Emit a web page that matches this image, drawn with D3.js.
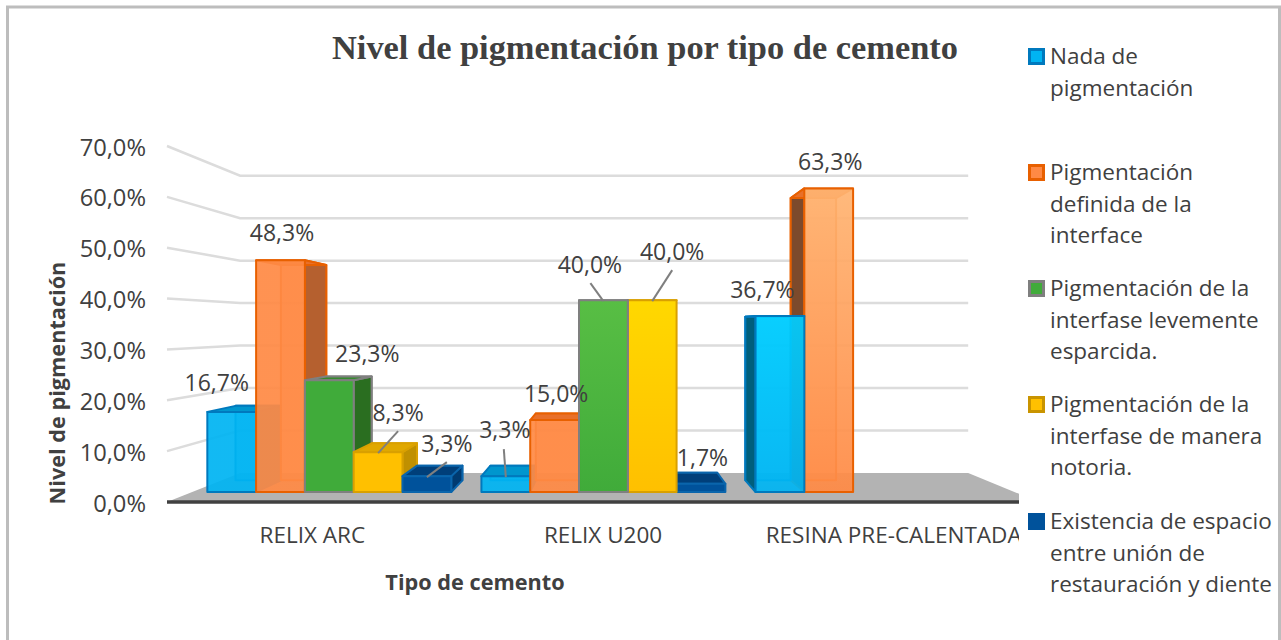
<!DOCTYPE html>
<html lang="es">
<head>
<meta charset="utf-8">
<title>Nivel de pigmentación por tipo de cemento</title>
<script src="https://d3js.org/d3.v7.min.js"></script>
<style>
  html, body { margin: 0; padding: 0; background: #fff; }
  svg { display: block; }
  text { font-family: "Open Sans", sans-serif; fill: #404040; }
  .axis path, .axis line { display: none; }
  .axis text { font-family: "Open Sans", sans-serif; fill: #404040; }
</style>
</head>
<body>
<script>
const categories = ["RELIX ARC", "RELIX U200", "RESINA PRE-CALENTADA"];
const seriesNames = [
  "Nada de pigmentación",
  "Pigmentación definida de la interface",
  "Pigmentación de la interfase levemente esparcida.",
  "Pigmentación de la interfase de manera notoria.",
  "Existencia de espacio entre unión de restauración y diente"
];
const nada = [16.7, 3.3, 36.7];
const definida = [48.3, 15.0, 63.3];
const levemente = [23.3, 40.0, 0];
const notoria = [8.3, 40.0, 0];
const espacio = [3.3, 1.7, 0];
const yTicks = [0, 10, 20, 30, 40, 50, 60, 70];

const seriesValues = [nada, definida, levemente, notoria, espacio];

const width = 1281, height = 640;

// perspective: everything shrinks towards this point going back into the chart
const vx = 610, vy = 326;
const wallBack = 0.835, barFront = 0.943, barBack = 0.877;
const project = (x, y, s) => [vx + s * (x - vx), vy + s * (y - vy)];

const fronts = ["#00B4F2", "#FF8A45", "#40AB3A", "#FFC000", "#00529B"];
const sides = ["#0082B8", "#B5602F", "#2A6E20", "#C09000", "#003A70"];
const leftSides = ["#005F7C", "#7C4A2C", "#2A6E20", "#C09000", "#003A70"];
const tops = ["#0096CE", "#E8702A", "#358A2E", "#E0A800", "#003F7A"];
const edges = ["#0079BD", "#E86000", "#7F7F7F", "#D9A000", "#0A65AC"];
const swatchEdges = ["#0079BD", "#E86000", "#7F7F7F", "#C99400", "#00529B"];
const frontOpacity = [0.93, 0.93, 1, 1, 1];
// lighter colour at the top of the tall front faces, per category
const topTints = [
  fronts,
  ["#00B4F2", "#FF8A45", "#58BE44", "#FFD800", "#00529B"],
  ["#00CEFF", "#FFB472", "#40AB3A", "#FFC000", "#00529B"]
];

// label offset from the bar's top centre, then the end of the leader line if it has one
const labelSpots = [
  [[-15, -30], [1.5, -28], [38, -27], [20, -40, 20, -21], [20, -33, 20, -14]],
  [[-1, -47, -2, -27], [1.5, -27], [-13.5, -36, -13, -17], [20, -49, 20, -30], [1.5, -27]],
  [[-17.5, -27], [1.5, -27]]
];

const legendLines = [
  ["Nada de", "pigmentación"],
  ["Pigmentación", "definida de la", "interface"],
  ["Pigmentación de la", "interfase levemente", "esparcida."],
  ["Pigmentación de la", "interfase de manera", "notoria."],
  ["Existencia de espacio", "entre unión de", "restauración y diente"]
];

const comma = d3.formatLocale({ decimal: ",", thousands: ".", grouping: [3], currency: ["", ""] }).format(".1f");
const pct = d => comma(d) + "%";

const y = d3.scaleLinear().domain([0, 70]).range([502, 146]);
const x0 = d3.scaleBand().domain(categories).range([167, 1039]).paddingInner(0.11).paddingOuter(0.055);
const x1 = d3.scaleBand().domain(seriesNames).range([0, x0.bandwidth()]);

const svg = d3.select("body").append("svg").attr("width", width).attr("height", height);

// outer frame of the chart
svg.append("rect").attr("width", width).attr("height", height).attr("fill", "#fff");
svg.append("path")
  .attr("d", "M7.5,640V7H1279.5V640")
  .attr("fill", "none").attr("stroke", "#BDBDBD").attr("stroke-width", 3);

svg.append("text")
  .attr("x", 645).attr("y", 59)
  .attr("text-anchor", "middle")
  .style("font-family", '"Liberation Serif", serif')
  .style("font-weight", "bold")
  .style("font-size", "34.4px")
  .text("Nivel de pigmentación por tipo de cemento");

const defs = svg.append("defs");
defs.append("clipPath").attr("id", "plot-clip")
  .append("rect").attr("x", 0).attr("y", 0).attr("width", 1019).attr("height", height);

const plot = svg.append("g").attr("clip-path", "url(#plot-clip)");

// walls: each gridline runs along the left wall then across the back
plot.append("g").selectAll("path")
  .data(yTicks.filter(d => d > 0))
  .join("path")
  .attr("d", d => d3.line()([
    project(167, y(d), 1),
    project(167, y(d), wallBack),
    project(1039, y(d), wallBack)
  ]))
  .attr("fill", "none").attr("stroke", "#DCDCDC").attr("stroke-width", 2.5);

// floor
plot.append("path")
  .attr("d", d3.line()([
    project(167, y(0), 1),
    project(167, y(0), wallBack),
    project(1039, y(0), wallBack),
    project(1039, y(0), 1)
  ]) + "Z")
  .attr("fill", "#B3B3B3");
plot.append("line")
  .attr("x1", 167).attr("x2", 1039).attr("y1", y(0)).attr("y2", y(0))
  .attr("stroke", "#404040").attr("stroke-width", 3.5);

const bars = [];
categories.forEach((c, ci) => {
  seriesNames.forEach((s, si) => {
    const v = seriesValues[si][ci];
    if (v > 0) bars.push({ c, ci, s, si, v });
  });
});

bars.forEach(b => {
  b.left = x0(b.c) + x1(b.s);
  b.right = b.left + x1.bandwidth();
  b.mid = (b.left + b.right) / 2;
  // bars further from the vanishing point get painted first
  b.dist = Math.abs(project(b.mid, y(0), barFront)[0] - vx);
});

bars.forEach(b => {
  const g = defs.append("linearGradient")
    .attr("id", `fill-${b.ci}-${b.si}`)
    .attr("x1", 0).attr("x2", 0).attr("y1", 0).attr("y2", 1);
  g.append("stop").attr("offset", 0).attr("stop-color", topTints[b.ci][b.si]);
  g.append("stop").attr("offset", 1).attr("stop-color", fronts[b.si]);
});

const barG = plot.append("g").attr("stroke-linejoin", "round");
bars.slice().sort((a, b) => b.dist - a.dist).forEach(b => {
  const yt = y(b.v), yb = y(0);
  const g = barG.append("g");
  const quad = (pts, fill, opacity) => g.append("path")
    .attr("d", d3.line()(pts) + "Z")
    .attr("fill", fill).attr("fill-opacity", opacity)
    .attr("stroke", edges[b.si]).attr("stroke-width", 2);

  // inside faces first, they show through the see-through front
  quad([project(b.left, yt, barBack), project(b.right, yt, barBack),
        project(b.right, yb, barBack), project(b.left, yb, barBack)], fronts[b.si], 0.5);
  const onLeft = project(b.mid, yb, barFront)[0] < vx;
  const sideX = onLeft ? b.right : b.left;
  quad([project(sideX, yt, barFront), project(sideX, yt, barBack),
        project(sideX, yb, barBack), project(sideX, yb, barFront)],
       onLeft ? sides[b.si] : leftSides[b.si], 1);
  quad([project(b.left, yt, barFront), project(b.right, yt, barFront),
        project(b.right, yt, barBack), project(b.left, yt, barBack)], tops[b.si], 1);
  quad([project(b.left, yt, barFront), project(b.right, yt, barFront),
        project(b.right, yb, barFront), project(b.left, yb, barFront)],
       `url(#fill-${b.ci}-${b.si})`, frontOpacity[b.si]);
});

// data labels and their leader lines
const labelG = plot.append("g");
bars.forEach(b => {
  const spot = labelSpots[b.ci][b.si];
  const [ax, ay] = project(b.mid, y(b.v), barFront);
  if (spot.length > 2) {
    labelG.append("line")
      .attr("x1", ax + spot[2]).attr("y1", ay + spot[3])
      .attr("x2", ax).attr("y2", ay + 1)
      .attr("stroke", "#7F7F7F").attr("stroke-width", 2);
  }
  labelG.append("text")
    .attr("x", ax + spot[0]).attr("y", ay + spot[1])
    .attr("text-anchor", "middle").attr("dominant-baseline", "central")
    .style("font-size", "23px")
    .text(pct(b.v));
});

// axes
svg.append("g").attr("class", "axis")
  .attr("transform", "translate(154,1.5)")
  .call(d3.axisLeft(y).tickValues(yTicks).tickFormat(pct).tickSize(0).tickPadding(8))
  .selectAll("text").style("font-size", "23.7px");

plot.append("g").attr("class", "axis")
  .attr("transform", "translate(0,527)")
  .call(d3.axisBottom(x0).tickSize(0).tickPadding(0))
  .selectAll("text").style("font-size", "22.5px");

svg.append("text")
  .attr("x", 475).attr("y", 589.5)
  .attr("text-anchor", "middle")
  .style("font-weight", "bold").style("font-size", "21.7px")
  .text("Tipo de cemento");

svg.append("text")
  .attr("transform", "translate(65,383) rotate(-90)")
  .attr("text-anchor", "middle")
  .style("font-weight", "bold").style("font-size", "21.7px")
  .text("Nivel de pigmentación");

// legend
const legendTop = [56, 172, 288, 404, 521];
const legend = svg.append("g").selectAll("g")
  .data(seriesNames)
  .join("g")
  .attr("transform", (d, i) => `translate(1028,${legendTop[i]})`);

legend.append("rect")
  .attr("x", 1.5).attr("y", -6.5).attr("width", 14).attr("height", 14)
  .attr("fill", (d, i) => fronts[i])
  .attr("stroke", (d, i) => swatchEdges[i])
  .attr("stroke-width", 3);

legend.each(function (d, i) {
  d3.select(this).selectAll("text")
    .data(legendLines[i])
    .join("text")
    .attr("x", 22)
    .attr("y", (t, k) => k * 31.6 + 8)
    .style("font-size", "22.5px")
    .text(t => t);
});
</script>
</body>
</html>
